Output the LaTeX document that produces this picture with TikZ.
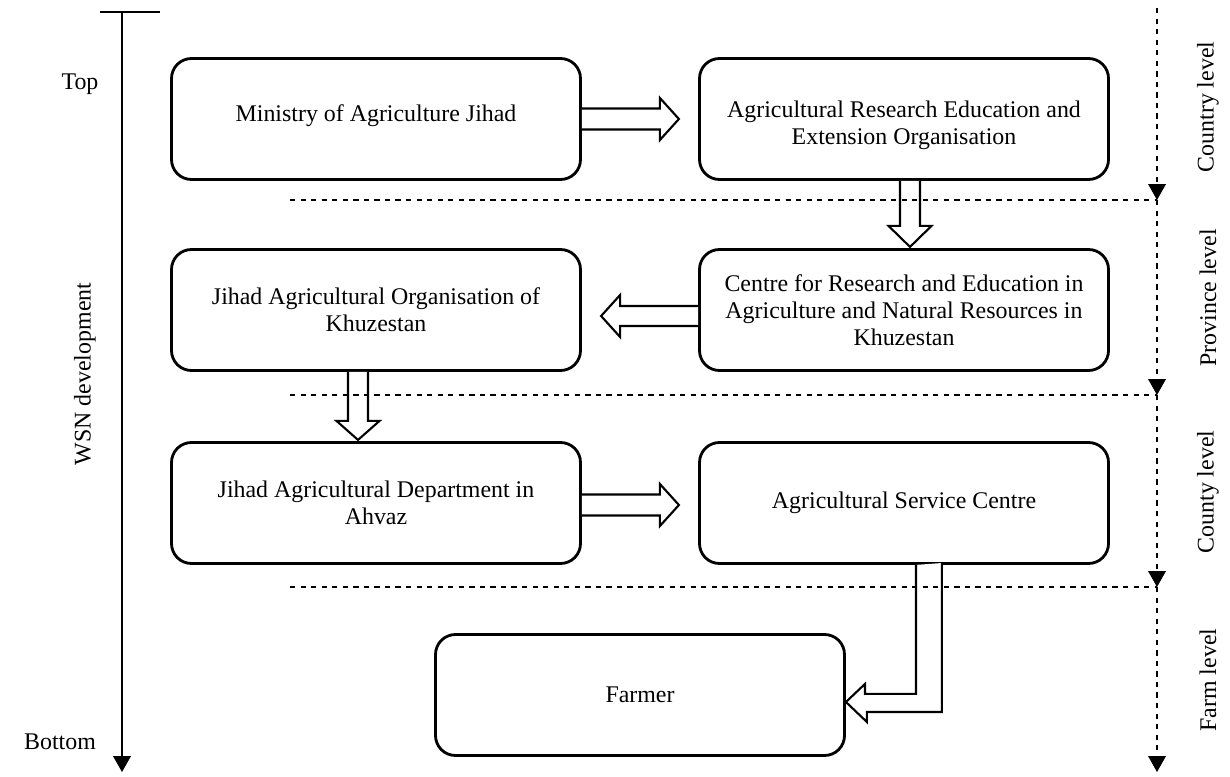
\documentclass[tikz,border=0pt]{standalone}
\usepackage{fontspec}
\setmainfont{Liberation Serif}
\usepackage{tikz}
\usetikzlibrary{arrows.meta,calc}

\tikzset{
  orgbox/.style={draw, line width=1.6pt, rounded corners=0.4cm, minimum width=8.18cm,
    minimum height=2.42cm, align=center, inner sep=2pt},
  blockarrow/.style={draw, line width=1.2pt, fill=white, line join=miter},
  levelline/.style={dashed, line width=0.6pt, -{Triangle[width=10pt,length=9pt]}},
  levellabel/.style={rotate=90}
}

\begin{document}
\begin{tikzpicture}[font=\fontsize{13.6}{15.2}\selectfont]
      \useasboundingbox (0,0) rectangle (24.6,15.52);
      % Boxes
      \node[orgbox, text depth=7pt] (min) at (7.52,13.14) {Ministry of Agriculture Jihad};
      \node[orgbox, text height=32pt] (areeo) at (18.08,13.14) {Agricultural Research Education and\\Extension Organisation};
      \node[orgbox] (jao) at (7.52,9.32) {Jihad Agricultural Organisation of\\Khuzestan};
      \node[orgbox] (creanr) at (18.08,9.32) {Centre for Research and Education in\\Agriculture and Natural Resources in\\Khuzestan};
      \node[orgbox] (jad) at (7.52,5.46) {Jihad Agricultural Department in\\Ahvaz};
      \node[orgbox] (asc) at (18.08,5.46) {Agricultural Service Centre};
      \node[orgbox] (farmer) at (12.8,1.62) {Farmer};
      % Block arrows
      \draw[blockarrow] ($(min.east)+(0,0.21)$) -- ++(1.56,0) -- ++(0,0.21) -- ++(0.38,-0.42)
        -- ++(-0.38,-0.42) -- ++(0,0.21) -- ++(-1.56,0);
      \draw[blockarrow] ($(areeo.south)+(-0.08,0)$) -- ++(0,-0.9) -- ++(-0.23,0) -- ++(0.43,-0.42)
        -- ++(0.43,0.42) -- ++(-0.23,0) -- ++(0,0.9);
      \draw[blockarrow] ($(creanr.west)+(0,0.08)$) -- ++(-1.56,0) -- ++(0,0.22) -- ++(-0.38,-0.42)
        -- ++(0.38,-0.42) -- ++(0,0.22) -- ++(1.56,0);
      \draw[blockarrow] ($(jao.south)+(-0.56,0)$) -- ++(0,-0.98) -- ++(-0.23,0) -- ++(0.43,-0.38)
        -- ++(0.43,0.38) -- ++(-0.23,0) -- ++(0,0.98);
      \draw[blockarrow] ($(jad.east)+(0,0.17)$) -- ++(1.56,0) -- ++(0,0.21) -- ++(0.38,-0.42)
        -- ++(-0.38,-0.42) -- ++(0,0.21) -- ++(-1.56,0);
      \draw[blockarrow] ($(asc.south)+(0.24,0)$) -- ++(0,-2.58) -- ++(-1.02,0) -- ++(0,0.2)
        -- ($(farmer.east)+(0,-0.14)$) -- ++(0.42,-0.4) -- ++(0,0.2) -- ++(1.5,0) -- ++(0,2.98);
      % Top-bottom axis
      \coordinate (axtop) at (2.44,15.28);
      \coordinate (axbot) at (2.44,0.08);
      \draw[line width=0.8pt] (2.0,15.28) -- (3.2,15.28);
      \draw[line width=0.8pt, -{Triangle[width=10pt,length=9pt]}] (axtop) -- (axbot);
      \node (top) at (1.6,13.84) {Top};
      \node (bottom) at (1.2,0.68) {Bottom};
      \node[levellabel] (wsn) at (1.7,8.04) {WSN development};
      % Levels
      \coordinate (lv0) at (23.14,15.36);
      \coordinate (lv1) at (23.14,11.52);
      \coordinate (lv2) at (23.14,7.62);
      \coordinate (lv3) at (23.14,3.78);
      \coordinate (lv4) at (23.14,0.08);
      \draw[levelline] (lv0) -- (lv1);
      \draw[levelline] (lv1) -- (lv2);
      \draw[levelline] (lv2) -- (lv3);
      \draw[levelline] (lv3) -- (lv4);
      \draw[dashed, line width=0.6pt] (5.8,11.52) -- (lv1);
      \draw[dashed, line width=0.6pt] (5.8,7.62) -- (lv2);
      \draw[dashed, line width=0.6pt] (5.8,3.78) -- (lv3);
      \node[levellabel] (country) at (24.16,13.38) {Country level};
      \node[levellabel] (province) at (24.16,9.56) {Province level};
      \node[levellabel] (county) at (24.16,5.68) {County level};
      \node[levellabel] (farm) at (24.16,1.92) {Farm level};
\end{tikzpicture}
\end{document}
